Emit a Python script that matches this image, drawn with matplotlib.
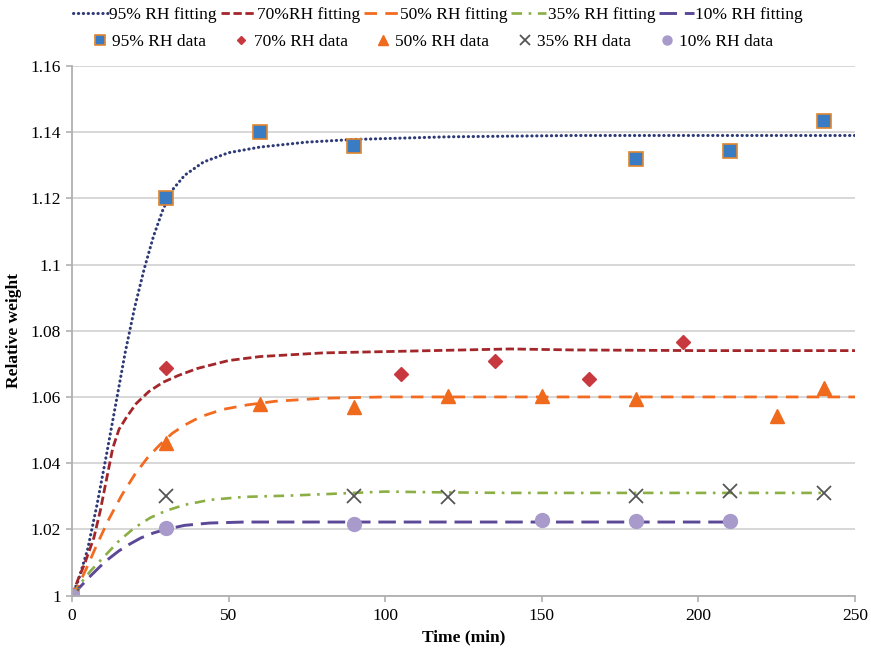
import matplotlib
matplotlib.use("Agg")
import matplotlib.pyplot as plt
from matplotlib.ticker import FuncFormatter, MultipleLocator

plt.rcParams['font.family'] = ['Liberation Serif', 'DejaVu Serif']

# measured data (time in min, relative weight)
t95 = [0, 30, 60, 90, 180, 210, 240]
w95 = [1.0, 1.120, 1.140, 1.1357, 1.132, 1.1344, 1.1435]
t70 = [0, 30, 105, 135, 165, 195]
w70 = [1.0, 1.0686, 1.067, 1.0709, 1.0654, 1.0766]
t50 = [0, 30, 60, 90, 120, 150, 180, 225, 240]
w50 = [1.0, 1.046, 1.058, 1.057, 1.0603, 1.0604, 1.0593, 1.0541, 1.0627]
t35 = [0, 30, 90, 120, 180, 210, 240]
w35 = [1.0, 1.0301, 1.0301, 1.0299, 1.0301, 1.0316, 1.0311]
t10 = [0, 30, 90, 150, 180, 210]
w10 = [1.0, 1.0203, 1.0215, 1.0227, 1.0226, 1.0226]

# fitting curves
ft95 = [0, 2, 5, 8, 11, 14, 17, 20, 23, 26, 29, 32, 36, 42, 50, 60, 75, 90, 120, 160, 200, 250]
fw95 = [1.0, 1.0045, 1.014, 1.0275, 1.0425, 1.058, 1.0735, 1.087, 1.0985, 1.1085, 1.1165,
        1.1225, 1.127, 1.131, 1.1338, 1.1355, 1.137, 1.1378, 1.1386, 1.139, 1.139, 1.139]
ft70 = [0, 2, 4, 7, 9, 11, 13, 15, 17.5, 20.5, 24.5, 29, 34, 40, 50, 60, 80, 100, 120, 140, 160, 200, 250]
fw70 = [1.0, 1.005, 1.0095, 1.0175, 1.0255, 1.035, 1.0445, 1.0502, 1.054, 1.058, 1.0616, 1.0644,
        1.0665, 1.0686, 1.071, 1.0722, 1.0733, 1.0737, 1.0741, 1.0745, 1.0742, 1.074, 1.074]
ft50 = [0, 2, 5, 8, 12, 16, 20, 24, 28, 32, 36, 41, 48, 56, 65, 80, 100, 150, 200, 250]
fw50 = [1.0, 1.003, 1.009, 1.0155, 1.0235, 1.0305, 1.0365, 1.0415, 1.0455, 1.049, 1.0515, 1.054,
        1.0562, 1.0576, 1.0587, 1.0596, 1.06, 1.06, 1.06, 1.06]
ft35 = [0, 3, 6, 10, 15, 20, 25, 30, 36, 44, 55, 70, 85, 100, 115, 140, 180, 240]
fw35 = [1.0, 1.004, 1.0075, 1.0115, 1.0165, 1.0205, 1.0235, 1.0256, 1.0274, 1.0289, 1.0298,
        1.0302, 1.0308, 1.0314, 1.0312, 1.031, 1.031, 1.031]
ft10 = [0, 3, 6, 9, 12, 15, 18, 22, 26, 30, 36, 44, 55, 70, 100, 150, 210]
fw10 = [1.0, 1.003, 1.006, 1.0088, 1.0113, 1.0135, 1.0153, 1.0174, 1.0189, 1.02, 1.0212, 1.0219,
        1.0222, 1.0222, 1.0222, 1.0222, 1.0222]

fig = plt.figure(figsize=(8.71, 6.51), dpi=100)
ax = fig.add_axes([72/871, 1-595.5/651, (855-72)/871, (595.5-66)/651])

# fitting lines
l95, = ax.plot(ft95, fw95, color='#2E3A78', lw=2.2, linestyle=(0, (0.1, 1.5)),
               dash_capstyle='round', label='95% RH fitting')
l70, = ax.plot(ft70, fw70, color='#A3262A', lw=2.0, linestyle=(0, (3, 1.3)), label='70%RH fitting')
l50, = ax.plot(ft50, fw50, color='#F26B21', lw=2.0, linestyle=(0, (4.5, 3)), label='50% RH fitting')
l35, = ax.plot(ft35, fw35, color='#8BAF45', lw=1.9, linestyle=(0, (4, 2.5, 1, 2.5)), label='35% RH fitting')
l10, = ax.plot(ft10, fw10, color='#5B4897', lw=2.1, linestyle=(0, (6, 2.7)), label='10% RH fitting')

# data points
d95, = ax.plot(t95, w95, 's', ms=10, mfc='#3A7CC4', mec='#E0852E', mew=1.2, ls='none', label='95% RH data')
d70, = ax.plot(t70, w70, 'D', ms=7, mfc='#C8383F', mec='#C8383F', ls='none', label='70% RH data')
d50, = ax.plot(t50, w50, '^', ms=10, mfc='#F06A1E', mec='#F06A1E', ls='none', label='50% RH data')
d35, = ax.plot(t35, w35, 'x', ms=10, mew=1.3, color='#555555', ls='none', label='35% RH data')
d10, = ax.plot(t10, w10, 'o', ms=10, mfc='#A89BCC', mec='#A89BCC', ls='none', label='10% RH data')

ax.set_xlim(0, 250)
ax.set_ylim(1.0, 1.16)
ax.xaxis.set_major_locator(MultipleLocator(50))
ax.yaxis.set_major_locator(MultipleLocator(0.02))
ax.yaxis.set_major_formatter(FuncFormatter(lambda v, p: '%g' % round(v, 2)))
ax.grid(axis='y', color='#D4D4D4', lw=1.3)
ax.set_axisbelow(True)
for s in ['top', 'right']:
    ax.spines[s].set_visible(False)
for s in ['left', 'bottom']:
    ax.spines[s].set_color('#B0B0B0')
    ax.spines[s].set_linewidth(1.3)
ax.tick_params(axis='both', colors='#B0B0B0', labelcolor='black', labelsize=12.5, length=4, width=1.2)
ax.tick_params(axis='y', pad=4)
ax.tick_params(axis='x', pad=5)

ax.set_xlabel('Time (min)', fontsize=12.5, fontweight='bold', labelpad=4)
ax.set_ylabel('Relative weight', fontsize=12.5, fontweight='bold', labelpad=6)

leg1 = fig.legend(handles=[l95, l70, l50, l35, l10], loc='center left',
                  bbox_to_anchor=(73/871, 1-15/651), ncol=5, frameon=False, fontsize=12.5,
                  handlelength=2.0, handletextpad=0.1, columnspacing=0.2, borderpad=0, borderaxespad=0)
leg2 = fig.legend(handles=[d95, d70, d50, d35, d10], loc='center left',
                  bbox_to_anchor=(91/871, 1-42/651), ncol=5, frameon=False, fontsize=12.5,
                  handlelength=1.0, handletextpad=0.2, columnspacing=1.55, markerscale=0.65,
                  borderpad=0, borderaxespad=0)

fig.savefig('out.png', dpi=100)
